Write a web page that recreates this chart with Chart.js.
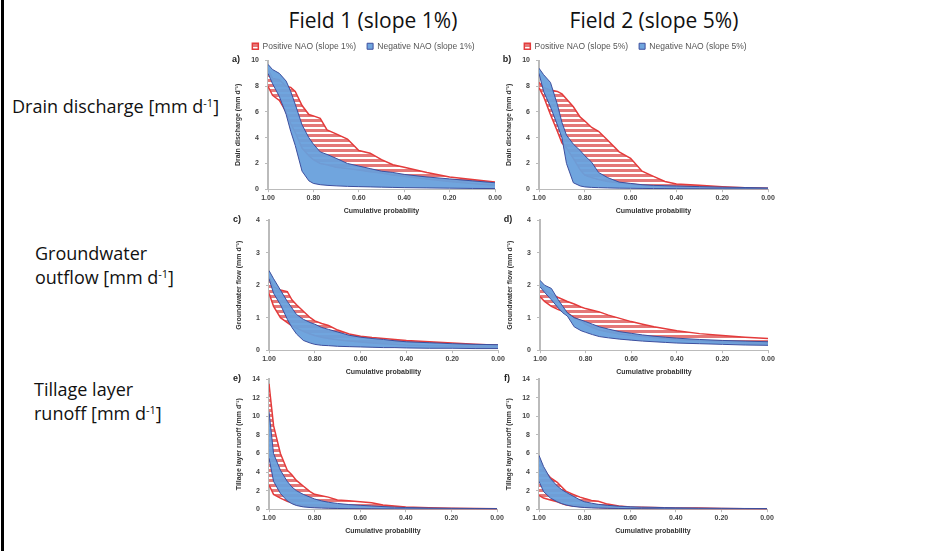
<!DOCTYPE html>
<html>
<head>
<meta charset="utf-8">
<script src="https://cdn.jsdelivr.net/npm/chart.js"></script>
<style>
body { margin: 0; background: #fff; width: 949px; height: 551px; overflow: hidden; position: relative; font-family: "Open Sans", sans-serif; color: #111; }
.frame { position: absolute; left: 1px; top: 0; width: 3px; height: 551px; background: #000; }
.head { position: absolute; top: 6px; width: 240px; text-align: center; font-size: 21px; line-height: 29px; }
.row { position: absolute; font-size: 18px; line-height: 24px; white-space: nowrap; }
.row sup { font-size: 11px; vertical-align: top; position: relative; top: -3px; }
.box { position: absolute; left: 0; top: 0; }
.box canvas { display: block; }
</style>
</head>
<body>
<div class="frame"></div>
<div class="head" style="left:253px">Field 1 (slope 1%)</div>
<div class="head" style="left:534px">Field 2 (slope 5%)</div>
<div class="row" style="left:12px;top:94px">Drain discharge [mm d<sup>-1</sup>]</div>
<div class="row" style="left:35px;top:241px">Groundwater<br>outflow [mm d<sup>-1</sup>]</div>
<div class="row" style="left:34px;top:377px">Tillage layer<br>runoff [mm d<sup>-1</sup>]</div>

<div class="box" id="boxA"><canvas id="chartA" width="280" height="180"></canvas></div>
<div class="box" id="boxB"><canvas id="chartB" width="280" height="180"></canvas></div>
<div class="box" id="boxC"><canvas id="chartC" width="280" height="180"></canvas></div>
<div class="box" id="boxD"><canvas id="chartD" width="280" height="180"></canvas></div>
<div class="box" id="boxE"><canvas id="chartE" width="280" height="180"></canvas></div>
<div class="box" id="boxF"><canvas id="chartF" width="280" height="180"></canvas></div>

<script>
// cumulative probability (x), shared by all panels
var prob = [1.00, 0.98, 0.95, 0.92, 0.90, 0.88, 0.85, 0.82, 0.80, 0.77, 0.74, 0.70, 0.65, 0.60, 0.55, 0.50, 0.45, 0.40, 0.30, 0.20, 0.10, 0.00];
var xTicks = [1.00, 0.80, 0.60, 0.40, 0.20, 0.00];

// drain discharge, field 1 (slope 1%)
var drain1PosHigh = [9.3, 8.6, 8.5, 8.0, 7.9, 7.6, 6.5, 5.8, 5.7, 5.5, 4.6, 4.3, 3.9, 3.0, 2.8, 2.3, 1.9, 1.7, 1.3, 0.95, 0.75, 0.55];
var drain1PosLow = [8.0, 7.3, 6.9, 6.0, 5.1, 4.4, 3.2, 2.6, 2.3, 2.0, 1.9, 1.7, 1.6, 1.5, 1.35, 1.25, 1.1, 1.0, 0.8, 0.6, 0.45, 0.3];
var drain1NegHigh = [9.7, 9.3, 9.0, 8.4, 7.6, 6.6, 5.0, 4.0, 3.5, 2.9, 2.7, 2.4, 2.0, 1.8, 1.6, 1.4, 1.3, 1.15, 0.95, 0.8, 0.65, 0.5];
var drain1NegLow = [9.0, 8.2, 7.2, 5.8, 4.5, 3.4, 1.4, 0.65, 0.45, 0.35, 0.3, 0.26, 0.22, 0.2, 0.18, 0.16, 0.14, 0.12, 0.1, 0.08, 0.06, 0.05];

// drain discharge, field 2 (slope 5%)
var drain2PosHigh = [8.3, 7.9, 7.7, 7.6, 7.4, 7.0, 6.4, 5.6, 5.3, 4.8, 4.5, 3.8, 2.9, 2.4, 1.4, 1.0, 0.6, 0.4, 0.3, 0.2, 0.12, 0.08];
var drain2PosLow = [7.9, 7.2, 5.8, 4.5, 3.6, 3.2, 2.4, 1.5, 1.1, 0.9, 0.75, 0.6, 0.5, 0.4, 0.3, 0.25, 0.2, 0.15, 0.1, 0.07, 0.05, 0.03];
var drain2NegHigh = [9.4, 8.9, 8.3, 6.6, 5.2, 4.2, 3.5, 3.0, 2.6, 2.1, 1.3, 0.9, 0.55, 0.45, 0.35, 0.3, 0.27, 0.25, 0.2, 0.16, 0.13, 0.1];
var drain2NegLow = [9.0, 7.6, 6.4, 5.0, 4.0, 2.0, 0.5, 0.25, 0.18, 0.14, 0.12, 0.1, 0.08, 0.07, 0.06, 0.05, 0.05, 0.04, 0.03, 0.02, 0.02, 0.01];

// groundwater outflow, field 1
var gw1PosHigh = [2.25, 1.95, 1.85, 1.8, 1.55, 1.4, 1.2, 1.0, 0.9, 0.82, 0.76, 0.62, 0.5, 0.43, 0.39, 0.36, 0.33, 0.3, 0.26, 0.22, 0.18, 0.15];
var gw1PosLow = [1.75, 1.35, 1.0, 0.85, 0.75, 0.68, 0.58, 0.5, 0.45, 0.4, 0.36, 0.32, 0.28, 0.25, 0.22, 0.2, 0.18, 0.16, 0.14, 0.12, 0.1, 0.08];
var gw1NegHigh = [2.45, 2.2, 1.85, 1.5, 1.3, 1.1, 0.95, 0.85, 0.8, 0.7, 0.64, 0.56, 0.46, 0.4, 0.36, 0.33, 0.29, 0.26, 0.23, 0.2, 0.18, 0.17];
var gw1NegLow = [2.2, 1.75, 1.4, 0.95, 0.7, 0.5, 0.3, 0.22, 0.18, 0.15, 0.14, 0.12, 0.11, 0.1, 0.09, 0.08, 0.08, 0.07, 0.06, 0.06, 0.05, 0.05];

// groundwater outflow, field 2
var gw2PosHigh = [2.05, 1.85, 1.72, 1.62, 1.56, 1.5, 1.42, 1.33, 1.28, 1.23, 1.18, 1.08, 0.98, 0.88, 0.8, 0.72, 0.66, 0.6, 0.51, 0.45, 0.4, 0.36];
var gw2PosLow = [1.65, 1.5, 1.35, 1.25, 1.2, 1.15, 1.0, 0.9, 0.8, 0.7, 0.62, 0.56, 0.5, 0.46, 0.42, 0.39, 0.36, 0.33, 0.29, 0.25, 0.22, 0.2];
var gw2NegHigh = [2.15, 2.0, 1.9, 1.55, 1.35, 1.15, 1.0, 0.93, 0.88, 0.8, 0.72, 0.65, 0.57, 0.52, 0.47, 0.43, 0.4, 0.37, 0.33, 0.3, 0.28, 0.26];
var gw2NegLow = [1.95, 1.78, 1.55, 1.3, 1.15, 1.05, 0.72, 0.6, 0.55, 0.48, 0.42, 0.38, 0.34, 0.31, 0.28, 0.26, 0.24, 0.22, 0.2, 0.18, 0.16, 0.15];

// tillage layer runoff, field 1
var till1PosHigh = [13.5, 9.0, 6.0, 4.2, 3.7, 3.1, 2.5, 1.9, 1.6, 1.45, 1.3, 1.0, 0.9, 0.8, 0.7, 0.45, 0.35, 0.25, 0.15, 0.1, 0.07, 0.05];
var till1PosLow = [2.6, 1.6, 1.2, 0.85, 0.7, 0.5, 0.35, 0.28, 0.25, 0.2, 0.17, 0.14, 0.1, 0.08, 0.06, 0.05, 0.04, 0.03, 0.02, 0.02, 0.01, 0.0];
var till1NegHigh = [10.5, 6.0, 4.2, 3.0, 2.4, 2.0, 1.6, 1.3, 1.1, 0.9, 0.75, 0.62, 0.5, 0.42, 0.35, 0.28, 0.22, 0.18, 0.13, 0.1, 0.08, 0.07];
var till1NegLow = [5.5, 3.0, 1.7, 0.9, 0.6, 0.4, 0.25, 0.18, 0.15, 0.12, 0.1, 0.08, 0.06, 0.05, 0.04, 0.03, 0.03, 0.02, 0.02, 0.01, 0.01, 0.0];

// tillage layer runoff, field 2
var till2PosHigh = [5.5, 4.2, 3.4, 2.9, 2.4, 1.9, 1.6, 1.3, 1.15, 0.95, 0.85, 0.55, 0.35, 0.25, 0.22, 0.18, 0.16, 0.14, 0.12, 0.08, 0.05, 0.04];
var till2PosLow = [1.5, 1.2, 1.0, 0.8, 0.6, 0.45, 0.35, 0.28, 0.24, 0.2, 0.17, 0.14, 0.11, 0.09, 0.07, 0.06, 0.05, 0.04, 0.03, 0.02, 0.01, 0.0];
var till2NegHigh = [5.8, 4.6, 3.3, 2.5, 2.1, 1.8, 1.4, 1.0, 0.8, 0.65, 0.52, 0.42, 0.32, 0.26, 0.22, 0.2, 0.17, 0.15, 0.12, 0.1, 0.08, 0.07];
var till2NegLow = [3.0, 1.9, 1.2, 0.8, 0.6, 0.45, 0.3, 0.22, 0.18, 0.14, 0.12, 0.1, 0.08, 0.06, 0.05, 0.04, 0.03, 0.03, 0.02, 0.01, 0.01, 0.0];

var yTitles = ['Drain discharge (mm d\u207B\u00B9)', 'Groundwater flow (mm d\u207B\u00B9)', 'Tillage layer runoff (mm d\u207B\u00B9)'];

Chart.defaults.font.family = '"Liberation Sans", Arial, sans-serif';
Chart.defaults.animation = false;

// red horizontal stripes for the positive NAO band
function stripes() {
	var c = document.createElement('canvas');
	c.width = 4;
	c.height = 5;
	var g = c.getContext('2d');
	g.fillStyle = '#ffffff';
	g.fillRect(0, 0, 4, 5);
	g.fillStyle = '#e47878';
	g.fillRect(0, 0, 4, 3);
	return g.createPattern(c, 'repeat');
}

function pts(arr) {
	return prob.map(function (p, i) { return { x: p, y: arr[i] }; });
}

var letterPlugin = {
	id: 'panelLetter',
	afterDraw: function (chart, args, opts) {
		var ctx = chart.ctx;
		ctx.save();
		ctx.font = 'bold 9px "Liberation Sans", Arial, sans-serif';
		ctx.fillStyle = '#222';
		ctx.textAlign = 'center';
		ctx.textBaseline = 'middle';
		ctx.fillText(opts.text, chart.chartArea.left - 32, chart.chartArea.top - 1);
		ctx.restore();
	}
};

// resize and move the chart so its plot area sits on the target box
function place(chart, box, t) {
	var a = chart.chartArea;
	chart.resize(Math.round(chart.width + (t.r - t.l) - (a.right - a.left)),
		Math.round(chart.height + (t.b - t.t) - (a.bottom - a.top)));
	a = chart.chartArea;
	box.style.left = (t.l - a.left) + 'px';
	box.style.top = (t.t - a.top) + 'px';
}

function panel(id, target, letter, yTitle, yMax, yStep, slope, posHigh, posLow, negHigh, negLow, showLegend) {
	var hatch = stripes();
	var chart = new Chart('chart' + id, {
		type: 'line',
		data: {
			datasets: [ {
				label: 'Positive NAO (slope ' + slope + ')',
				data: pts(posHigh),
				borderColor: '#e43b3b',
				borderWidth: 1.5,
				backgroundColor: hatch,
				fill: false,
				pointRadius: 0,
				// positive band drawn first, below the negative band
				order: 2
			}, {
				label: 'pos low',
				data: pts(posLow),
				borderColor: '#e43b3b',
				borderWidth: 1.5,
				backgroundColor: hatch,
				fill: '-1',
				pointRadius: 0,
				order: 2
			}, {
				label: 'Negative NAO (slope ' + slope + ')',
				data: pts(negHigh),
				borderColor: '#3d4f9e',
				borderWidth: 1,
				backgroundColor: 'rgba(104,160,220,0.95)',
				fill: false,
				pointRadius: 0,
				order: 1
			}, {
				label: 'neg low',
				data: pts(negLow),
				borderColor: '#3d4f9e',
				borderWidth: 1,
				backgroundColor: 'rgba(104,160,220,0.95)',
				fill: '-1',
				pointRadius: 0,
				order: 1
			} ]
		},
		options: {
			responsive: false,
			maintainAspectRatio: false,
			layout: { padding: { left: 0, right: 12, top: 2, bottom: 2 } },
			plugins: {
				tooltip: { enabled: false },
				panelLetter: { text: letter },
				legend: {
					display: showLegend,
					position: 'top',
					labels: {
						boxWidth: 6,
						boxHeight: 6,
						padding: 11,
						color: '#555',
						font: { size: 8.5 },
						filter: function (item) { return item.datasetIndex === 0 || item.datasetIndex === 2; },
						sort: function (a, b) { return a.datasetIndex - b.datasetIndex; }
					}
				}
			},
			scales: {
				x: {
					type: 'linear',
					min: 0,
					max: 1,
					reverse: true,
					afterBuildTicks: function (s) { s.ticks = xTicks.map(function (v) { return { value: v }; }); },
					ticks: {
						callback: function (v) { return v.toFixed(2); },
						color: '#444',
						font: { size: 7, weight: 'bold' },
						maxRotation: 0,
						padding: 2
					},
					grid: { drawOnChartArea: false, tickLength: 3, color: '#bbb' },
					border: { color: '#bbb', width: 1 },
					title: {
						display: true,
						text: 'Cumulative probability',
						color: '#333',
						font: { size: 7, weight: 'bold' },
						padding: { top: 2, bottom: 0 }
					}
				},
				y: {
					min: 0,
					max: yMax,
					afterFit: function (s) { s.width = 36; },
					ticks: {
						stepSize: yStep,
						color: '#444',
						font: { size: 7, weight: 'bold' },
						padding: 6
					},
					grid: { drawOnChartArea: false, tickLength: 3, color: '#bbb' },
					border: { color: '#bbb', width: 2 },
					title: {
						display: true,
						text: yTitle,
						color: '#333',
						font: { size: 7, weight: 'bold' },
						padding: { top: 2, bottom: 2 }
					}
				}
			}
		},
		plugins: [ letterPlugin ]
	});
	place(chart, document.getElementById('box' + id), target);
	return chart;
}

panel('A', { l: 268, r: 495, t: 60, b: 189 }, 'a)', yTitles[0], 10, 2, '1%', drain1PosHigh, drain1PosLow, drain1NegHigh, drain1NegLow, true);
panel('B', { l: 539, r: 768, t: 60, b: 189 }, 'b)', yTitles[0], 10, 2, '5%', drain2PosHigh, drain2PosLow, drain2NegHigh, drain2NegLow, true);
panel('C', { l: 269, r: 498, t: 220, b: 350 }, 'c)', yTitles[1], 4, 1, '1%', gw1PosHigh, gw1PosLow, gw1NegHigh, gw1NegLow, false);
panel('D', { l: 540, r: 768, t: 220, b: 350 }, 'd)', yTitles[1], 4, 1, '5%', gw2PosHigh, gw2PosLow, gw2NegHigh, gw2NegLow, false);
panel('E', { l: 269, r: 497, t: 379, b: 509 }, 'e)', yTitles[2], 14, 2, '1%', till1PosHigh, till1PosLow, till1NegHigh, till1NegLow, false);
panel('F', { l: 539, r: 767, t: 379, b: 509 }, 'f)', yTitles[2], 14, 2, '5%', till2PosHigh, till2PosLow, till2NegHigh, till2NegLow, false);
</script>
</body>
</html>
